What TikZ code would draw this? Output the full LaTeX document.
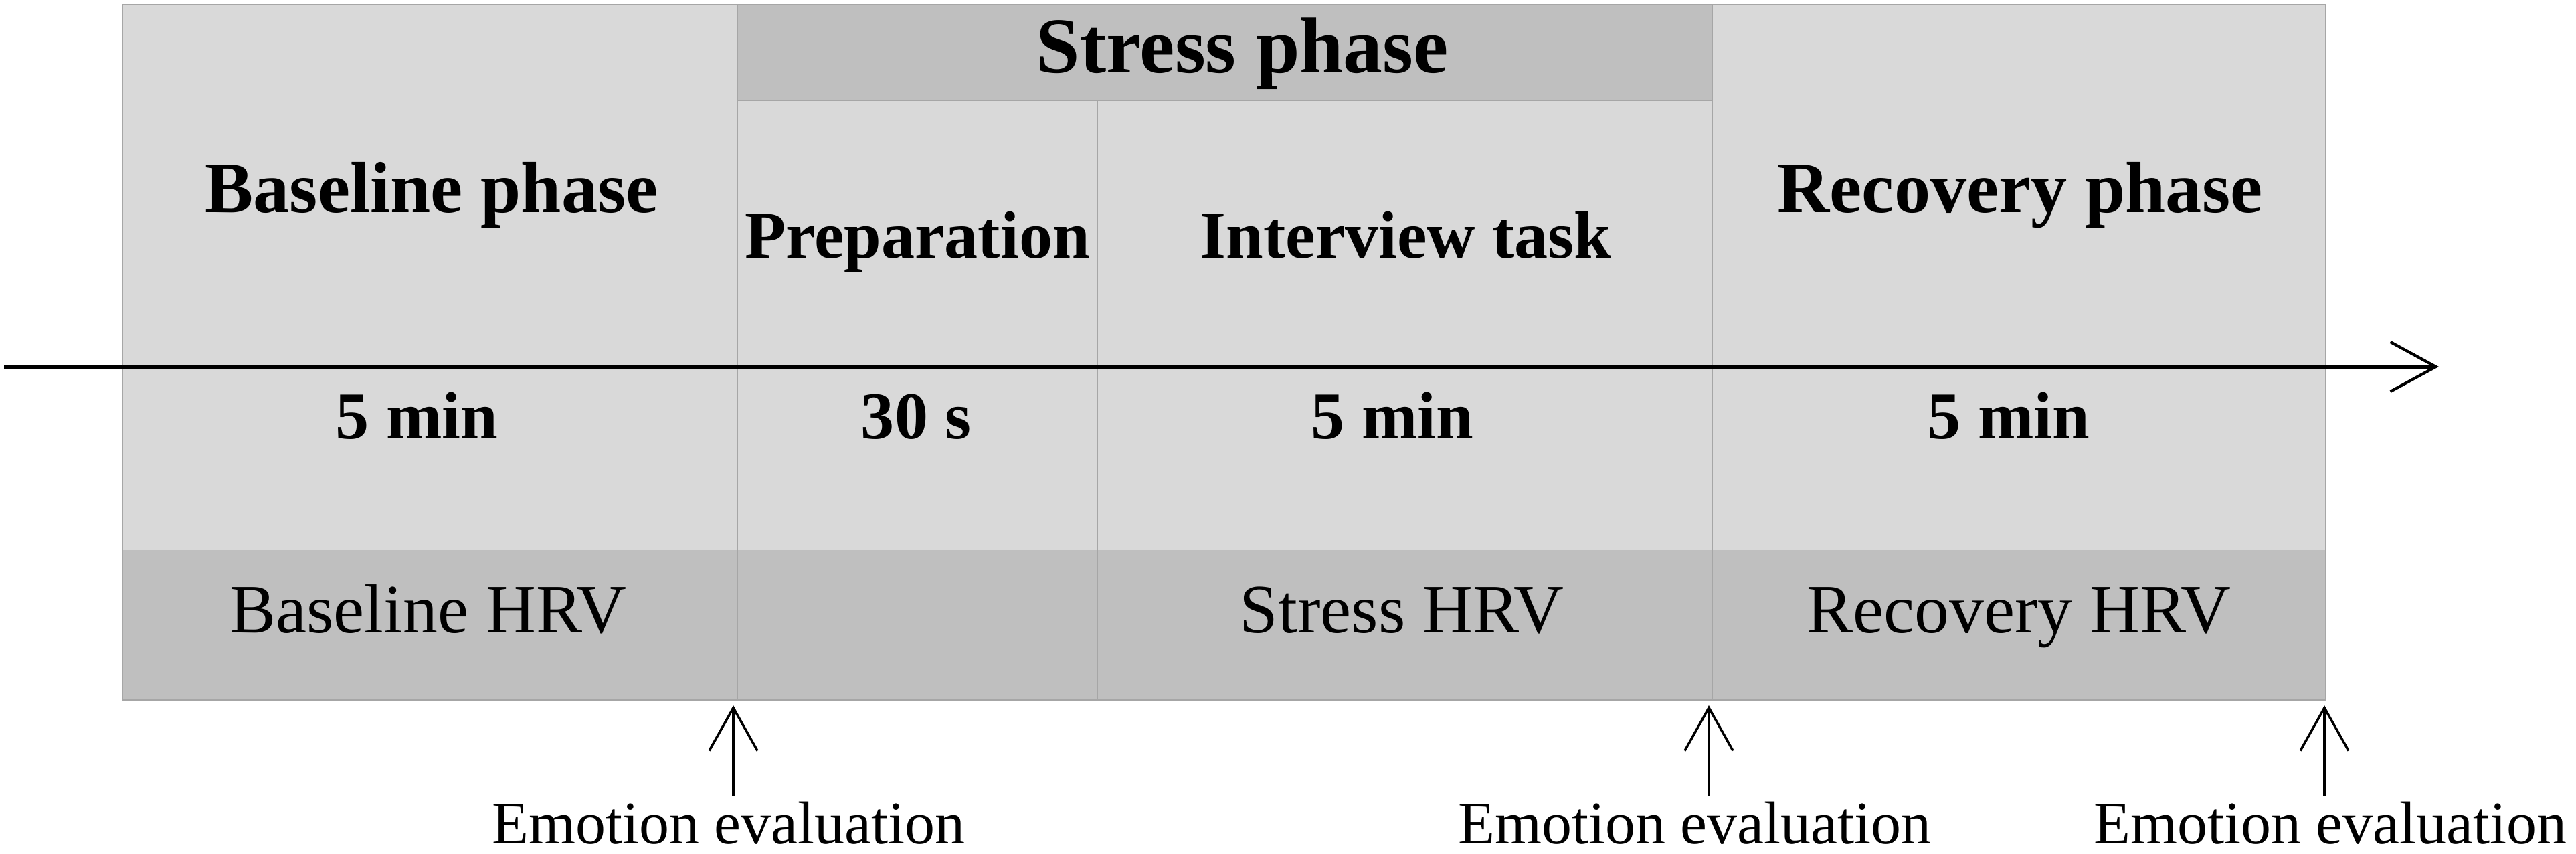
\documentclass[tikz,border=0pt]{standalone}
\usepackage{fontspec}
\setmainfont{Liberation Serif}
\usetikzlibrary{arrows.meta}
\definecolor{cellgray}{HTML}{D9D9D9}
\definecolor{bandgray}{HTML}{BFBFBF}
\definecolor{linegray}{HTML}{A6A6A6}
\begin{document}
\begin{tikzpicture}[
  phasetxt/.style={font=\fontsize{30.8}{36}\selectfont\bfseries, anchor=base, inner sep=0pt},
  stresstxt/.style={font=\fontsize{33.5}{38}\selectfont\bfseries, anchor=base, inner sep=0pt},
  subtxt/.style={font=\fontsize{28.5}{32}\selectfont\bfseries, anchor=base, inner sep=0pt},
  hrvtxt/.style={font=\fontsize{29.5}{33}\selectfont, anchor=base, inner sep=0pt},
  evaltxt/.style={font=\fontsize{25.6}{30}\selectfont, anchor=base, inner sep=0pt},
  cellline/.style={draw=linegray, line width=0.6pt},
  timeline/.style={line width=1.6pt, -{Straight Barb[length=6.8mm,width=7.4mm,line width=1.2pt]}},
  evalarrow/.style={line width=1.1pt, -{Straight Barb[length=6.4mm,width=7.2mm,line width=1.0pt]}}
]
\useasboundingbox (0,0) rectangle (38.5,12.76);
% cells
\fill[cellgray] (1.83,2.30) rectangle (34.76,12.69);
\fill[bandgray] (1.83,2.30) rectangle (34.76,4.54);
\fill[bandgray] (11.02,11.26) rectangle (25.59,12.69);
% borders
\draw[cellline] (1.83,2.30) rectangle (34.76,12.69);
\draw[cellline] (11.02,11.26) -- (25.59,11.26);
\draw[cellline] (11.02,2.30) -- (11.02,12.69);
\draw[cellline] (16.40,2.30) -- (16.40,11.26);
\draw[cellline] (25.59,2.30) -- (25.59,12.69);
% header texts
\node[stresstxt] (stress) at (18.57,11.67) {Stress phase};
\node[phasetxt] (base) at (6.45,9.58) {Baseline phase};
\node[phasetxt] (recov) at (30.19,9.58) {Recovery phase};
\node[subtxt] (prep) at (13.71,8.90) {Preparation};
\node[subtxt] (interv) at (21.01,8.90) {Interview task};
% durations
\node[subtxt] (d1) at (6.23,6.20) {5 min};
\node[subtxt] (d2) at (13.69,6.20) {30 s};
\node[subtxt] (d3) at (20.81,6.20) {5 min};
\node[subtxt] (d4) at (30.02,6.20) {5 min};
% HRV
\node[hrvtxt] (h1) at (6.40,3.30) {Baseline HRV};
\node[hrvtxt] (h2) at (20.95,3.30) {Stress HRV};
\node[hrvtxt] (h3) at (30.17,3.30) {Recovery HRV};
% timeline
\coordinate (tstart) at (0.06,7.28);
\coordinate (tend) at (36.45,7.28);
\draw[timeline] (tstart) -- (tend);
% emotion evaluations
\node[evaltxt] (e1) at (10.89,0.15) {Emotion evaluation};
\node[evaltxt] (e2) at (25.33,0.15) {Emotion evaluation};
\node[evaltxt] (e3) at (34.83,0.15) {Emotion evaluation};
\coordinate (t1) at (10.96,2.22);
\coordinate (t2) at (25.54,2.22);
\coordinate (t3) at (34.74,2.22);
\coordinate (b1) at (10.96,0.86);
\coordinate (b2) at (25.54,0.86);
\coordinate (b3) at (34.74,0.86);
\draw[evalarrow] (b1) -- (t1);
\draw[evalarrow] (b2) -- (t2);
\draw[evalarrow] (b3) -- (t3);
\end{tikzpicture}
\end{document}
